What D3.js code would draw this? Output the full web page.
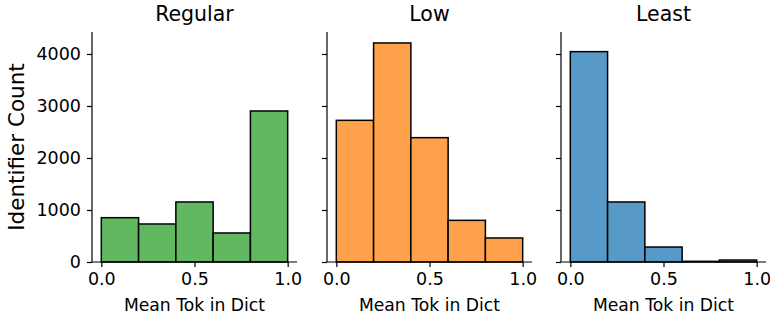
<!DOCTYPE html>
<html>
<head>
<meta charset="utf-8">
<script src="https://cdn.jsdelivr.net/npm/d3@7"></script>
<style>
  body { margin: 0; background: #fff; }
  text { font-family: "DejaVu Sans", sans-serif; fill: #000; }
</style>
</head>
<body>
<svg id="chart" width="770" height="320"></svg>
<script>
// bins are 0.0-0.2, 0.2-0.4, ... 0.8-1.0
const binEdges = [0, 0.2, 0.4, 0.6, 0.8, 1.0];
const panelNames = ['Regular', 'Low', 'Least'];
const regularCounts = [852, 731, 1154, 558, 2904];
const lowCounts = [2724, 4212, 2391, 801, 462];
const leastCounts = [4045, 1154, 288, 13, 38];
const panelColors = ['#61b861', '#ffa04a', '#579ac7'];
const xTickValues = [0, 0.5, 1.0];
const yTickValues = [0, 1000, 2000, 3000, 4000];

const allCounts = [regularCounts, lowCounts, leastCounts];

const svg = d3.select('#chart');
const panelLeft = [92, 327, 561];
const panelW = 205;
const plotTop = 32, plotBottom = 262;

// shared y like sharey=True, 5% headroom
const yMax = d3.max(allCounts.flat()) * 1.05;
const y = d3.scaleLinear().domain([0, yMax]).range([plotBottom, plotTop]);

panelNames.forEach((name, i) => {
  const x = d3.scaleLinear().domain([-0.05, 1.05]).range([panelLeft[i], panelLeft[i] + panelW]);
  const g = svg.append('g');

  const bins = allCounts[i].map((c, j) => ({x0: binEdges[j], x1: binEdges[j + 1], count: c}));

  g.selectAll('rect.bar')
    .data(bins)
    .enter().append('rect')
    .attr('class', 'bar')
    .attr('x', d => x(d.x0))
    .attr('width', d => x(d.x1) - x(d.x0))
    .attr('y', d => y(d.count))
    .attr('height', d => y(0) - y(d.count))
    .attr('fill', panelColors[i])
    .attr('stroke', '#000')
    .attr('stroke-width', 1.5);

  // x axis
  const xAxis = d3.axisBottom(x)
    .tickValues(xTickValues)
    .tickFormat(d3.format('.1f'))
    .tickSize(5)
    .tickPadding(6);
  const gx = g.append('g')
    .attr('transform', `translate(0,${plotBottom})`)
    .call(xAxis);
  gx.select('.domain').attr('d', `M${panelLeft[i]},0H${panelLeft[i] + panelW}`);

  // y axis, labels only on the first panel
  const yAxis = d3.axisLeft(y)
    .tickValues(yTickValues)
    .tickSize(5)
    .tickPadding(6)
    .tickFormat(i === 0 ? d3.format('d') : '');
  const gy = g.append('g')
    .attr('transform', `translate(${panelLeft[i]},0)`)
    .call(yAxis);
  gy.select('.domain').attr('d', `M0,${plotBottom}V${plotTop}`);

  [gx, gy].forEach(a => {
    a.selectAll('.domain, .tick line').attr('stroke', '#000').attr('stroke-width', 1.2);
    a.selectAll('.tick text').attr('font-size', 17.5).attr('font-family', 'DejaVu Sans').attr('fill', '#000');
  });

  g.append('text')
    .attr('x', panelLeft[i] + panelW / 2)
    .attr('y', 21)
    .attr('text-anchor', 'middle')
    .attr('font-size', 20.5)
    .text(name);

  g.append('text')
    .attr('x', panelLeft[i] + panelW / 2)
    .attr('y', 311)
    .attr('text-anchor', 'middle')
    .attr('font-size', 17.2)
    .text('Mean Tok in Dict');
});

svg.append('text')
  .attr('transform', `translate(24,${(plotTop + plotBottom) / 2}) rotate(-90)`)
  .attr('text-anchor', 'middle')
  .attr('font-size', 21.5)
  .text('Identifier Count');
</script>
</body>
</html>
